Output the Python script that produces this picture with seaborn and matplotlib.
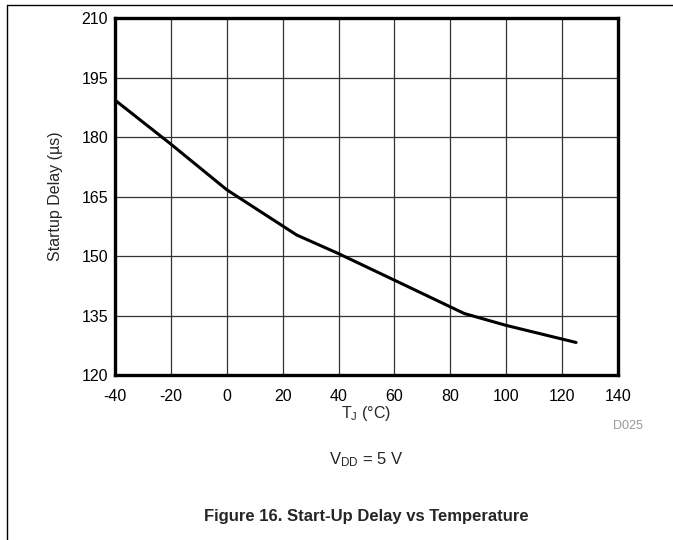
import matplotlib
matplotlib.use("Agg")
import matplotlib.pyplot as plt
import seaborn as sns
import pandas as pd
from matplotlib.lines import Line2D

temps = [-40, -20, 0, 25, 40, 60, 85, 100, 125]
delay = [189.3, 178.2, 166.7, 155.3, 150.6, 143.9, 135.5, 132.5, 128.2]
x_ticks = [-40, -20, 0, 20, 40, 60, 80, 100, 120, 140]
y_ticks = [120, 135, 150, 165, 180, 195, 210]

sns.set_style("white")
plt.rcParams['font.family'] = ['Liberation Sans', 'DejaVu Sans']
plt.rcParams['mathtext.fontset'] = 'custom'
plt.rcParams['mathtext.rm'] = 'Liberation Sans'
plt.rcParams['mathtext.it'] = 'Liberation Sans'

df = pd.DataFrame({"T": temps, "D": delay})

fig = plt.figure(figsize=(6.73, 5.4), dpi=100)
ax = fig.add_axes([115/673, 1-375/540, (618-115)/673, (375-18)/540])
sns.lineplot(data=df, x="T", y="D", ax=ax, color="black", linewidth=2.2)

ax.set_xlim(-40, 140)
ax.set_ylim(120, 210)
ax.set_xticks(x_ticks)
ax.set_yticks(y_ticks)
ax.set_xticklabels([str(v) for v in x_ticks])
ax.set_yticklabels([str(v) for v in y_ticks])
ax.grid(True, color="#333333", linewidth=0.9)
ax.tick_params(length=0, labelsize=11.5, colors="black")
ax.tick_params(axis="x", pad=10)
ax.tick_params(axis="y", pad=5)
for s in ax.spines.values():
    s.set_visible(True)
    s.set_color("black")
    s.set_linewidth(2.4)
ax.set_xlabel("T$_\\mathrm{J}$ (°C)", fontsize=11.5, labelpad=0)
ax.set_ylabel("Startup Delay (µs)", fontsize=11.5, labelpad=13)

fig.text(628/673, 1-426/540, "D025", fontsize=9, color="#999999", ha="center", va="center")
fig.text(366/673, 1-460/540, "V$_\\mathrm{DD}$ = 5 V", fontsize=12, ha="center", va="center")
fig.text(366/673, 1-516/540, "Figure 16. Start-Up Delay vs Temperature", fontsize=12,
         fontweight="bold", ha="center", va="center")

fig.add_artist(Line2D([7/673, 1], [1-5/540, 1-5/540], transform=fig.transFigure, color="black", linewidth=1))
fig.add_artist(Line2D([7/673, 7/673], [0, 1-5/540], transform=fig.transFigure, color="black", linewidth=1))

fig.savefig("out.png", dpi=100)
